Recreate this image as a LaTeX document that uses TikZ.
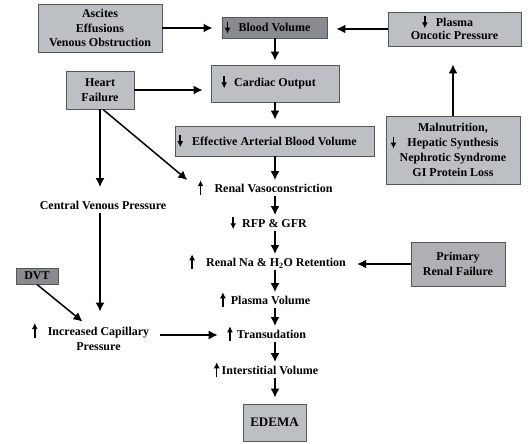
\documentclass[tikz,border=0pt]{standalone}
\usepackage{fontspec}
\setmainfont{Liberation Serif}
\usetikzlibrary{arrows.meta}
\definecolor{boxgray}{RGB}{188,191,195}
\definecolor{boxdark}{RGB}{136,139,144}
\definecolor{renalgray}{RGB}{174,176,179}
\definecolor{boxline}{RGB}{85,87,90}
\newcommand{\upar}{\smash{\tikz[baseline=0pt]\draw[line width=1.5pt,-{Latex[length=6pt,width=6pt]}] (0pt,-3pt) -- (0pt,12pt);}}
\newcommand{\dnar}{\smash{\tikz[baseline=0pt]\draw[line width=1.5pt,-{Latex[length=6pt,width=6pt]}] (0pt,10pt) -- (0pt,-2pt);}}

\begin{document}
\begin{tikzpicture}[x=1pt, y=-1pt, >={Latex[length=9pt,width=9pt]}, every node/.style={align=center, font=\bfseries\fontsize{12}{14.5}\selectfont}]
  \useasboundingbox (0,0) rectangle (531,444);
  \coordinate (axis) at (275,0);

  \begin{scope}[every node/.append style={draw=boxline, fill=boxgray, line width=0.9pt, inner sep=0pt}]
    \node [minimum width=124pt, minimum height=48pt] (ascites) at (100,28) {Ascites\\Effusions\\Venous Obstruction};
    \node [fill=boxdark, minimum width=105pt, minimum height=21pt] (blood) at (274.5,27.5) {\llap{\dnar\hspace{8pt}}Blood Volume};
    \node [minimum width=133pt, minimum height=34pt, font=\bfseries\fontsize{12}{13.5}\selectfont] (plasma) at (454.5,29) {\llap{\dnar\hspace{8pt}}Plasma\\Oncotic Pressure};
    \node [minimum width=68pt, minimum height=38pt] (heart) at (100,90) {Heart\\Failure};
    \node [minimum width=128pt, minimum height=37pt] (cardiac) at (275,83.5) {\llap{\dnar\hspace{7pt}}Cardiac Output};
    \node [minimum width=199pt, minimum height=30pt] (eabv) at (274.5,141) {\llap{\dnar\hspace{9pt}}Effective Arterial Blood Volume};
    \node [minimum width=134pt, minimum height=68pt, font=\bfseries\fontsize{12}{15}\selectfont] (malnut) at (453,150) {Malnutrition,\\\llap{\dnar\hspace{11pt}}Hepatic Synthesis\\Nephrotic Syndrome\\GI Protein Loss};
    \node [fill=renalgray, minimum width=94pt, minimum height=44pt] (primary) at (458,264) {Primary\\Renal Failure};
    \node [fill=boxdark, minimum width=42pt, minimum height=16pt] (dvt) at (37,276) {DVT};
    \node [minimum width=63pt, minimum height=37pt, font=\bfseries\fontsize{13}{15}\selectfont] (edema) at (274.5,422.5) {EDEMA};
  \end{scope}

  \begin{scope}[every node/.append style={inner sep=1pt, text height=9pt, text depth=2.5pt}]
    \node (vaso) at (273.5,189) {\llap{\upar\hspace{11pt}}Renal Vasoconstriction};
    \node (cvp) at (103,206) {Central Venous Pressure};
    \node (rfp) at (274.5,224) {\llap{\dnar\hspace{6pt}}RFP \& GFR};
    \node (retention) at (276,263) {\llap{\upar\hspace{11pt}}Renal Na \& H\textsubscript{2}O Retention};
    \node (plasmavol) at (270.5,301) {\llap{\upar\hspace{5pt}}Plasma Volume};
    \node (transud) at (271.5,335) {\llap{\upar\hspace{4pt}}Transudation};
    \node (interst) at (270,371) {\llap{\upar\hspace{2pt}}Interstitial Volume};
  \end{scope}
  \node [inner sep=1pt, font=\bfseries\fontsize{12}{15}\selectfont] (capillary) at (98.5,338.5) {\llap{\upar\hspace{10pt}}Increased Capillary\\Pressure};

  \begin{scope}[line width=1.5pt, shorten >=2pt]
    \draw [->, shorten >=9pt] (ascites.east) -- (ascites.east -| blood.west);
    \draw [->, shorten >=9pt] (plasma.west) -- (plasma.west -| blood.east);
    \draw [->, shorten >=4pt] (blood.south -| axis) -- (cardiac.north -| axis);
    \draw [->, shorten >=8pt] (heart.east) -- (heart.east -| cardiac.west);
    \draw [->, shorten >=6pt] (cardiac.south -| axis) -- (eabv.north -| axis);
    \draw [->] (eabv.south -| axis) -- (vaso.north -| axis);
    \draw [->, shorten >=18pt] (malnut.north) -- (malnut.north |- plasma.south);
    \draw [->] (vaso.south -| axis) -- (rfp.north -| axis);
    \draw [->] (rfp.south -| axis) -- (retention.north -| axis);
    \draw [->, shorten >=10pt] (primary.west) -- (primary.west -| retention.east);
    \draw [->] (retention.south -| axis) -- (plasmavol.north -| axis);
    \draw [->] (plasmavol.south -| axis) -- (transud.north -| axis);
    \draw [->] (transud.south -| axis) -- (interst.north -| axis);
    \draw [->, shorten >=6pt] (interst.south -| axis) -- (edema.north -| axis);
    \draw [->, shorten >=12pt] (heart.south) -- (heart.south |- cvp.north);
    \draw [->, shorten >=0pt] ([xshift=3pt]heart.south) -- ([xshift=-26pt,yshift=9pt]vaso.west);
    \draw [->, shorten >=14pt] (cvp.south -| heart.south) -- (capillary.north -| heart.south);
    \draw [->, shorten >=0pt] (dvt.south) -- ([xshift=-16pt,yshift=4pt]capillary.north);
    \draw [->, shorten <=10pt, shorten >=18pt] (transud.west -| capillary.east) -- (transud.west);
  \end{scope}
\end{tikzpicture}
\end{document}
